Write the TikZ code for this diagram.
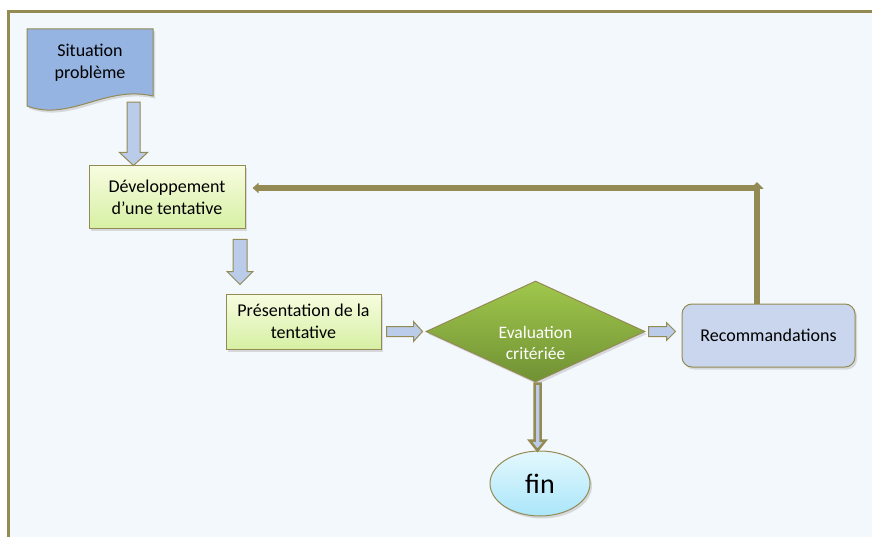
\documentclass[tikz,border=0pt]{standalone}
\usepackage{fontspec}
\setmainfont{Carlito}
\usetikzlibrary{positioning,calc,shapes.geometric,shadows,arrows.meta}

\definecolor{lineolive}{RGB}{148,138,84}
\definecolor{pagebg}{RGB}{243,248,252}
\definecolor{docblue}{RGB}{150,180,225}
\definecolor{arrowblue}{RGB}{186,204,234}
\definecolor{devtop}{RGB}{247,252,224}
\definecolor{devbot}{RGB}{214,240,163}
\definecolor{diamtop}{RGB}{160,199,76}
\definecolor{diambot}{RGB}{112,145,52}
\definecolor{recoblue}{RGB}{201,214,238}
\definecolor{fintop}{RGB}{228,248,253}
\definecolor{finbot}{RGB}{170,230,250}

% block arrow: [style]{from}{to}{shaft half width}{head half width}{head length}
\newcommand{\blockarrow}[6][]{%
  \coordinate (ba) at ($(#3)!#6!(#2)$);
  \draw[barrow,#1] ($(#2)!#4!90:(#3)$) -- ($(ba)!#4!90:(#3)$) -- ($(ba)!#5!90:(#3)$) -- (#3)
    -- ($(ba)!#5!-90:(#3)$) -- ($(ba)!#4!-90:(#3)$) -- ($(#2)!#4!-90:(#3)$) -- cycle;
}

\begin{document}
\begin{tikzpicture}[x=1pt,y=-1pt,
  txt/.style={align=center, inner sep=0pt, font=\fontsize{18}{22}\selectfont},
  shade/.style={drop shadow={shadow xshift=2pt, shadow yshift=-2.5pt, opacity=.25}},
  box/.style={txt, draw=lineolive, line width=1pt, shade},
  barrow/.style={draw=lineolive, fill=arrowblue, line width=1pt, line join=miter},
  fbline/.style={draw=lineolive, line width=6pt}]
  \useasboundingbox (0,0) rectangle (872,537);
  \fill[white] (0,0) rectangle (872,537);
  \draw[lineolive, line width=3pt, fill=pagebg] (8.5,11.5) rectangle (1000,700);

  \coordinate (sitc) at (90,62.5);
  \draw[draw=lineolive, line width=1pt, fill=docblue, shade]
    ($(sitc)+(-63,-33.5)$) -- ($(sitc)+(63,-33.5)$) -- ($(sitc)+(63,33.5)$)
    .. controls ($(sitc)+(15,22.5)$) and ($(sitc)+(-20,59.5)$) .. ($(sitc)+(-63,43.5)$) -- cycle;
  \node[txt, minimum width=126pt, minimum height=67pt] (sit) at (sitc) {Situation\\problème};

  \node[box, minimum width=156pt, minimum height=63pt, top color=devtop, bottom color=devbot]
    (dev) at (167,197.5) {Développement\\d’une tentative};
  \node[box, minimum width=155pt, minimum height=55pt, top color=devtop, bottom color=devbot]
    (pres) at (303.5,321.5) {Présentation de la\\tentative};
  \node[diamond, draw=lineolive, line width=1pt, shade, aspect=2.2, inner sep=0pt,
    minimum width=219pt, minimum height=101pt, top color=diamtop, bottom color=diambot,
    label={[txt, white, font=\fontsize{17.5}{21}\selectfont, yshift=-11pt]center:Evaluation\\critériée}]
    (diam) at (535.5,331.5) {};
  \node[box, rounded corners=10pt, minimum width=173pt, minimum height=63pt, fill=recoblue]
    (reco) at (768.5,335.5) {Recommandations};
  \node[box, ellipse, minimum width=100pt, minimum height=65pt, top color=fintop, bottom color=finbot,
    font=\fontsize{28}{32}\selectfont] (fin) at (540,483.5) {fin};

  \coordinate (a1s) at ($(sit.south)+(43.5,6)$);
  \coordinate (a1e) at (a1s |- dev.north);
  \coordinate (a2s) at ($(dev.south)+(73,10)$);
  \coordinate (a2e) at ($(a2s |- pres.north)+(0,-9)$);
  \coordinate (a3s) at ($(pres.east |- diam.west)+(5,0)$);
  \coordinate (a3e) at ($(diam.west)+(-3,0)$);
  \coordinate (a4s) at ($(diam.east)+(3,0)$);
  \coordinate (a4e) at ($(reco.west |- diam.east)+(-6,0)$);
  \coordinate (a5s) at ($(diam.south)+(2,1)$);
  \coordinate (a5e) at (a5s |- fin.north);
  \blockarrow{a1s}{a1e}{6.5pt}{14pt}{13pt}
  \blockarrow{a2s}{a2e}{7pt}{13pt}{13pt}
  \blockarrow{a3s}{a3e}{5pt}{10pt}{9pt}
  \blockarrow{a4s}{a4e}{5pt}{9pt}{9pt}
  \blockarrow[line width=2.5pt]{a5s}{a5e}{3pt}{8pt}{10pt}

  \coordinate (fbl) at ($(dev.east)+(7,-9.5)$);
  \coordinate (fbr) at ($(reco.north)+(-11.5,0)$);
  \coordinate (fbc) at (fbr |- fbl);
  \draw[fbline, -{Triangle[length=7pt,width=13pt]}] (fbr) -- ($(fbc)+(0,-6)$);
  \draw[fbline, -{Triangle[length=6pt,width=10pt]}] ($(fbc)+(3,0)$) -- (fbl);
\end{tikzpicture}
\end{document}
